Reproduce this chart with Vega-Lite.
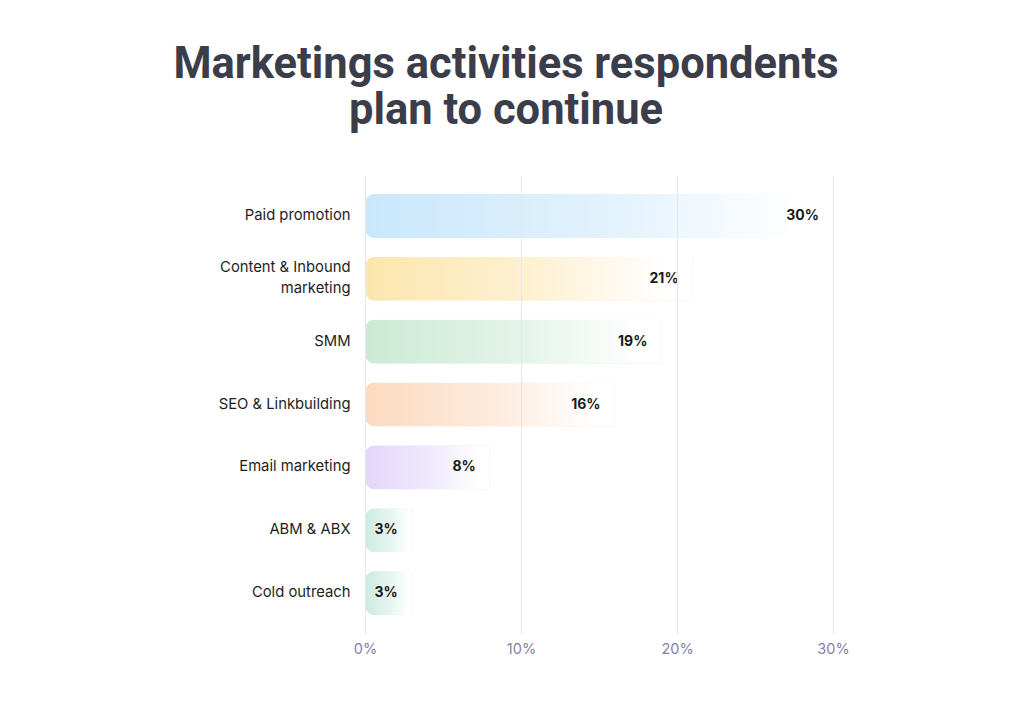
{
  "$schema": "https://vega.github.io/schema/vega-lite/v6.json",
  "autosize": {"type": "none"},
  "width": 468,
  "height": 459,
  "padding": {"left": 365, "top": 175, "right": 191, "bottom": 72},
  "background": "white",
  "title": {
    "text": ["Marketings activities respondents", "plan to continue"],
    "font": "Roboto",
    "fontSize": 43.5,
    "fontWeight": "bold",
    "color": "#3b3d4a",
    "lineHeight": 46,
    "anchor": "middle",
    "frame": "group",
    "dx": -93,
    "offset": 42
  },
  "data": {
    "values": [
      {"activity": "Paid promotion", "value": 30, "label": "30%"},
      {"activity": "Content & Inbound|marketing", "value": 21, "label": "21%"},
      {"activity": "SMM", "value": 19, "label": "19%"},
      {"activity": "SEO & Linkbuilding", "value": 16, "label": "16%"},
      {"activity": "Email marketing", "value": 8, "label": "8%"},
      {"activity": "ABM & ABX", "value": 3, "label": "3%"},
      {"activity": "Cold outreach", "value": 3, "label": "3%"}
    ]
  },
  "encoding": {
    "y": {
      "field": "activity",
      "type": "nominal",
      "sort": null,
      "scale": {"paddingInner": 0.3, "paddingOuter": 0.3},
      "axis": {
        "title": null,
        "domain": false,
        "ticks": false,
        "labelPadding": 15,
        "labelFont": "Inter",
        "labelFontSize": 14.8,
        "labelColor": "#1e1e1e",
        "labelLineHeight": 21,
        "labelOffset": {"condition": {"test": "indexof(datum.value, '|') >= 0", "value": -10.5}, "value": 0},
        "labelExpr": "split(datum.label, '|')"
      }
    },
    "x": {
      "field": "value",
      "type": "quantitative",
      "scale": {"domain": [0, 30]},
      "axis": {
        "title": null,
        "domain": false,
        "ticks": false,
        "values": [0, 10, 20, 30],
        "labelFlush": false,
        "labelExpr": "datum.value + '%'",
        "labelFont": "Inter",
        "labelFontSize": 14.5,
        "labelColor": "#8481a6",
        "labelPadding": 8,
        "gridColor": "#e8e8ec",
        "gridWidth": 1.2,
        "zindex": 1
      }
    }
  },
  "layer": [
    {
      "mark": {"type": "bar", "cornerRadiusTopLeft": 10, "cornerRadiusBottomLeft": 10},
      "encoding": {
        "color": {
          "field": "activity",
          "type": "nominal",
          "legend": null,
          "scale": {
            "domain": ["Paid promotion", "Content & Inbound|marketing", "SMM", "SEO & Linkbuilding", "Email marketing", "ABM & ABX", "Cold outreach"],
            "range": ["#c9e7fc", "#fde6ad", "#cbead5", "#fcdac0", "#e3d6fb", "#cdebe1", "#cdebe1"]
          }
        }
      }
    },
    {
      "mark": {
        "type": "bar",
        "cornerRadiusTopLeft": 10,
        "cornerRadiusBottomLeft": 10,
        "color": {
          "gradient": "linear",
          "x1": 0, "y1": 0, "x2": 1, "y2": 0,
          "stops": [
            {"offset": 0, "color": "rgba(255,255,255,0)"},
            {"offset": 0.55, "color": "rgba(255,255,255,0.5)"},
            {"offset": 0.92, "color": "rgba(255,255,255,1)"},
            {"offset": 1, "color": "rgba(255,255,255,1)"}
          ]
        }
      }
    },
    {
      "mark": {"type": "text", "align": "right", "dx": -14, "font": "Inter", "fontSize": 14, "fontWeight": "bold", "color": "#1a1a1a"},
      "encoding": {"text": {"field": "label"}}
    }
  ],
  "config": {"view": {"stroke": null}}
}
